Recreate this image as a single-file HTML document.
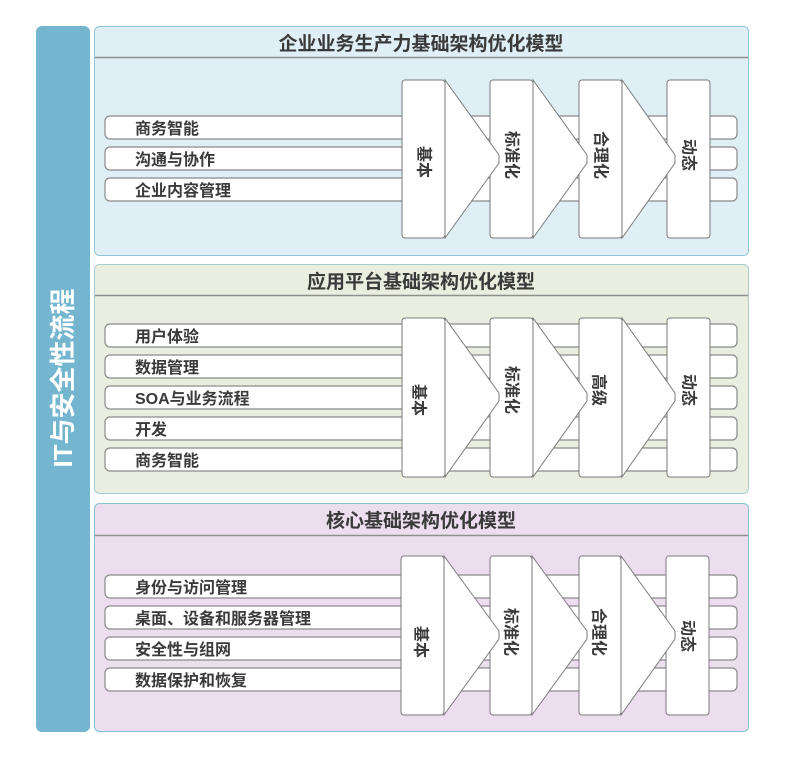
<!DOCTYPE html>
<html><head><meta charset="utf-8"><style>
html,body{margin:0;padding:0;background:#fff;}
svg{display:block;}
text{font-family:"Liberation Sans","Noto Sans CJK SC",sans-serif;font-weight:bold;fill:#3a3a3a;}
.t{font-size:19px;}
.r{font-size:16px;}
.c{font-size:16px;}
.row{fill:#fff;stroke:#8a8a8a;stroke-width:1.2;}
.ch{fill:#fff;stroke:#7a7a7a;stroke-width:1;}
</style></head><body>
<svg width="800" height="758" viewBox="0 0 800 758" xmlns="http://www.w3.org/2000/svg">
<rect x="36" y="26" width="54" height="706" rx="6" fill="#74b6cf"/>
<text transform="translate(72,378) rotate(-90)" text-anchor="middle" style="font-size:26px;fill:#fff">IT与安全性流程</text>

<!-- Panel 1 -->
<rect x="94.5" y="26.5" width="654" height="229" rx="5" fill="#e0eff6" stroke="#8cc6d6"/>
<line x1="95" y1="57.5" x2="748" y2="57.5" stroke="#8f8f8f" stroke-width="1.5"/>
<text class="t" x="421" y="50" text-anchor="middle">企业业务生产力基础架构优化模型</text>
<rect class="row" x="105" y="116" width="632" height="23" rx="5"/>
<rect class="row" x="105" y="147" width="632" height="23" rx="5"/>
<rect class="row" x="105" y="178" width="632" height="23" rx="5"/>
<text class="r" x="135" y="134">商务智能</text>
<text class="r" x="135" y="165">沟通与协作</text>
<text class="r" x="135" y="196">企业内容管理</text>
<rect class="ch" x="667" y="80" width="43" height="158" rx="3"/>
<rect class="ch" x="579" y="80" width="43" height="158" rx="3"/>
<polygon class="ch" points="622,80 675,155 675,163 622,238"/>
<rect class="ch" x="490" y="80" width="43" height="158" rx="3"/>
<polygon class="ch" points="533,80 587,155 587,163 533,238"/>
<rect class="ch" x="402" y="80" width="43" height="158" rx="3"/>
<polygon class="ch" points="445,80 499,155 499,163 445,238"/>
<text class="c" transform="translate(423,162) rotate(90)" text-anchor="middle" dominant-baseline="central">基本</text>
<text class="c" transform="translate(511,155) rotate(90)" text-anchor="middle" dominant-baseline="central">标准化</text>
<text class="c" transform="translate(600,155) rotate(90)" text-anchor="middle" dominant-baseline="central">合理化</text>
<text class="c" transform="translate(688,155) rotate(90)" text-anchor="middle" dominant-baseline="central">动态</text>

<!-- Panel 2 -->
<rect x="94.5" y="264.5" width="654" height="229" rx="5" fill="#eaeee0" stroke="#a9ccd0"/>
<line x1="95" y1="295.5" x2="748" y2="295.5" stroke="#8f8f8f" stroke-width="1.5"/>
<text class="t" x="421" y="288" text-anchor="middle">应用平台基础架构优化模型</text>
<rect class="row" x="105" y="324" width="632" height="23" rx="5"/>
<rect class="row" x="105" y="355" width="632" height="23" rx="5"/>
<rect class="row" x="105" y="386" width="632" height="23" rx="5"/>
<rect class="row" x="105" y="417" width="632" height="23" rx="5"/>
<rect class="row" x="105" y="448" width="632" height="23" rx="5"/>
<text class="r" x="135" y="342">用户体验</text>
<text class="r" x="135" y="373">数据管理</text>
<text class="r" x="135" y="404">SOA与业务流程</text>
<text class="r" x="135" y="435">开发</text>
<text class="r" x="135" y="466">商务智能</text>
<rect class="ch" x="667" y="318" width="43" height="159" rx="3"/>
<rect class="ch" x="579" y="318" width="43" height="159" rx="3"/>
<polygon class="ch" points="622,318 675,393 675,401 622,477"/>
<rect class="ch" x="490" y="318" width="43" height="159" rx="3"/>
<polygon class="ch" points="533,318 587,393 587,401 533,477"/>
<rect class="ch" x="402" y="318" width="43" height="159" rx="3"/>
<polygon class="ch" points="445,318 499,393 499,401 445,477"/>
<text class="c" transform="translate(418,400) rotate(90)" text-anchor="middle" dominant-baseline="central">基本</text>
<text class="c" transform="translate(511,390) rotate(90)" text-anchor="middle" dominant-baseline="central">标准化</text>
<text class="c" transform="translate(598,390) rotate(90)" text-anchor="middle" dominant-baseline="central">高级</text>
<text class="c" transform="translate(688,390) rotate(90)" text-anchor="middle" dominant-baseline="central">动态</text>

<!-- Panel 3 -->
<rect x="94.5" y="503.5" width="654" height="228" rx="5" fill="#ecdeef" stroke="#84c2d3"/>
<line x1="95" y1="535.5" x2="748" y2="535.5" stroke="#8f8f8f" stroke-width="1.5"/>
<text class="t" x="421" y="527" text-anchor="middle">核心基础架构优化模型</text>
<rect class="row" x="105" y="575" width="632" height="23" rx="5"/>
<rect class="row" x="105" y="606" width="632" height="23" rx="5"/>
<rect class="row" x="105" y="637" width="632" height="23" rx="5"/>
<rect class="row" x="105" y="668" width="632" height="23" rx="5"/>
<text class="r" x="135" y="593">身份与访问管理</text>
<text class="r" x="135" y="624">桌面、设备和服务器管理</text>
<text class="r" x="135" y="655">安全性与组网</text>
<text class="r" x="135" y="686">数据保护和恢复</text>
<rect class="ch" x="666" y="556" width="43" height="159" rx="3"/>
<rect class="ch" x="579" y="556" width="42" height="159" rx="3"/>
<polygon class="ch" points="621,556 675,631 675,639 621,715"/>
<rect class="ch" x="490" y="556" width="42" height="159" rx="3"/>
<polygon class="ch" points="532,556 587,631 587,639 532,715"/>
<rect class="ch" x="401" y="556" width="43" height="159" rx="3"/>
<polygon class="ch" points="444,556 499,631 499,639 444,715"/>
<text class="c" transform="translate(420,642) rotate(90)" text-anchor="middle" dominant-baseline="central">基本</text>
<text class="c" transform="translate(510,632) rotate(90)" text-anchor="middle" dominant-baseline="central">标准化</text>
<text class="c" transform="translate(598,632) rotate(90)" text-anchor="middle" dominant-baseline="central">合理化</text>
<text class="c" transform="translate(687,636) rotate(90)" text-anchor="middle" dominant-baseline="central">动态</text>
</svg>
</body></html>
